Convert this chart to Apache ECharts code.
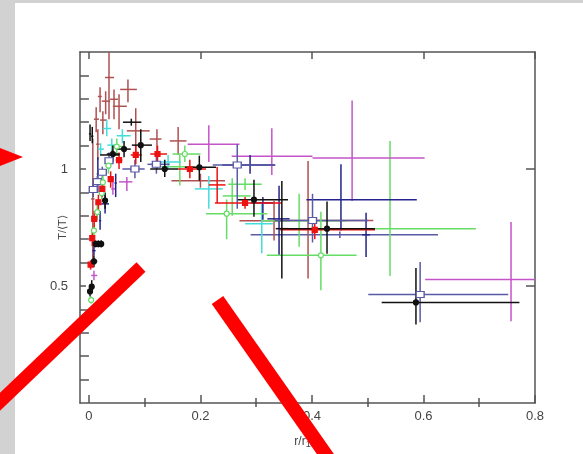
<!DOCTYPE html>
<html>
<head>
<meta charset="utf-8">
<script src="https://cdn.jsdelivr.net/npm/echarts@6/dist/echarts.min.js"></script>
<style>
html,body{margin:0;padding:0;background:#fff;}
#c{width:583px;height:454px;}
</style>
</head>
<body>
<div id="c"></div>
<script>
// Each point: [x, y, xLow, xHigh, yLow, yHigh]
const xTickLabels = [0, 0.2, 0.4, 0.6, 0.8];
const xMinorTicks = [0.1, 0.3, 0.5, 0.7];
const yTickLabels = [0.5, 1];
const yMinorTicks = [0.1, 0.2, 0.3, 0.4, 0.6, 0.7, 0.8, 0.9, 1.1, 1.2, 1.3, 1.4];
const yAllTicks = [0.1, 0.2, 0.3, 0.4, 0.5, 0.6, 0.7, 0.8, 0.9, 1, 1.1, 1.2, 1.3, 1.4];

const brownBars = [
  [0.036, 1.391, 0.029, 0.045, 1.213, 1.50],
  [0.070, 1.340, 0.056, 0.086, 1.285, 1.383],
  [0.020, 1.310, 0.016, 0.023, 1.243, 1.349],
  [0.030, 1.290, 0.023, 0.038, 1.234, 1.332],
  [0.045, 1.298, 0.038, 0.052, 1.213, 1.340],
  [0.054, 1.268, 0.043, 0.068, 1.170, 1.319],
  [0.013, 1.213, 0.009, 0.018, 1.157, 1.264],
  [0.025, 1.209, 0.020, 0.032, 1.149, 1.247],
  [0.007, 0.872, 0.004, 0.010, 0.600, 1.130],
  [0.016, 1.106, 0.013, 0.019, 1.040, 1.170],
  [0.084, 1.163, 0.068, 0.109, 1.060, 1.260],
  [0.122, 1.128, 0.109, 0.130, 1.000, 1.170],
  [0.160, 1.120, 0.145, 0.175, 1.060, 1.180],
  [0.200, 0.950, 0.148, 0.244, 0.920, 0.980],
  [0.393, 0.780, 0.330, 0.510, 0.532, 1.034],
  [0.332, 0.779, 0.270, 0.360, 0.694, 0.864]
];
const blackPts = [
  [0.427, 0.745, 0.357, 0.513, 0.638, 0.861],
  [0.5865, 0.430, 0.525, 0.772, 0.336, 0.577],
  [0.296, 0.869, 0.267, 0.357, 0.796, 0.954],
  [0.198, 1.007, 0.172, 0.228, 0.950, 1.057],
  [0.136, 1.000, 0.110, 0.160, 0.966, 1.040],
  [0.093, 1.102, 0.077, 0.113, 1.030, 1.170],
  [0.063, 1.085, 0.050, 0.075, 1.050, 1.120],
  [0.043, 1.064, 0.032, 0.055, 1.030, 1.100],
  [0.029, 0.865, 0.024, 0.034, 0.830, 0.900],
  [0.012, 0.680, 0.010, 0.015, 0.665, 0.695],
  [0.017, 0.680, 0.015, 0.020, 0.665, 0.695],
  [0.022, 0.680, 0.020, 0.026, 0.665, 0.695],
  [0.009, 0.605, 0.004, 0.015, 0.580, 0.630],
  [0.005, 0.497, 0.003, 0.007, 0.470, 0.525],
  [0.002, 0.477, 0.001, 0.004, 0.455, 0.500]
];
const blackBars = [
  [0.002, 1.150, 0.000, 0.004, 1.120, 1.190],
  [0.006, 1.140, 0.004, 0.008, 1.110, 1.180],
  [0.076, 1.200, 0.061, 0.094, 1.185, 1.215],
  [0.346, 0.745, 0.335, 0.357, 0.532, 0.949],
  [0.042, 1.060, 0.020, 0.055, 1.040, 1.080]
];
const redPts = [
  [0.405, 0.740, 0.343, 0.513, 0.700, 0.780],
  [0.280, 0.855, 0.226, 0.345, 0.830, 0.880],
  [0.181, 1.000, 0.160, 0.210, 0.960, 1.040],
  [0.123, 1.064, 0.110, 0.140, 1.030, 1.100],
  [0.084, 1.060, 0.075, 0.095, 1.020, 1.100],
  [0.054, 1.038, 0.048, 0.060, 1.000, 1.070],
  [0.039, 0.957, 0.035, 0.045, 0.920, 0.990],
  [0.024, 0.915, 0.020, 0.028, 0.880, 0.950],
  [0.017, 0.858, 0.014, 0.020, 0.820, 0.890],
  [0.0095, 0.787, 0.007, 0.012, 0.750, 0.820],
  [0.006, 0.705, 0.004, 0.008, 0.670, 0.740],
  [0.003, 0.591, 0.002, 0.005, 0.570, 0.610]
];
const redBars = [
  [0.230, 0.932, 0.215, 0.245, 0.855, 1.009]
];
const greenPts = [
  [0.416, 0.631, 0.319, 0.480, 0.482, 0.817],
  [0.247, 0.809, 0.210, 0.320, 0.700, 0.870],
  [0.172, 1.064, 0.150, 0.200, 1.030, 1.100],
  [0.050, 1.096, 0.040, 0.065, 1.060, 1.130],
  [0.035, 1.014, 0.030, 0.040, 0.980, 1.050],
  [0.025, 0.943, 0.020, 0.030, 0.910, 0.980],
  [0.023, 0.896, 0.019, 0.027, 0.870, 0.925],
  [0.015, 0.816, 0.012, 0.018, 0.780, 0.850],
  [0.009, 0.737, 0.007, 0.011, 0.710, 0.765],
  [0.004, 0.440, 0.002, 0.006, 0.425, 0.455]
];
const greenBars = [
  [0.540, 0.745, 0.430, 0.694, 0.543, 1.120],
  [0.163, 1.010, 0.130, 0.190, 0.930, 1.060],
  [0.257, 0.885, 0.240, 0.290, 0.800, 0.960],
  [0.377, 0.779, 0.310, 0.463, 0.668, 0.894],
  [0.280, 0.935, 0.250, 0.310, 0.910, 0.960]
];
const cyanBars = [
  [0.032, 1.173, 0.025, 0.040, 1.140, 1.210],
  [0.060, 1.142, 0.050, 0.075, 1.110, 1.170],
  [0.021, 1.085, 0.016, 0.027, 1.060, 1.110],
  [0.041, 1.102, 0.033, 0.050, 1.070, 1.130],
  [0.142, 1.030, 0.120, 0.165, 1.000, 1.060],
  [0.215, 0.915, 0.190, 0.240, 0.830, 0.970],
  [0.310, 0.766, 0.280, 0.330, 0.640, 0.850]
];
const magentaBars = [
  [0.472, 1.047, 0.401, 0.602, 0.863, 1.293],
  [0.328, 1.055, 0.256, 0.401, 0.974, 1.174],
  [0.757, 0.528, 0.603, 0.802, 0.349, 0.774],
  [0.215, 1.106, 0.177, 0.270, 1.030, 1.187],
  [0.068, 0.945, 0.054, 0.078, 0.906, 0.966],
  [0.009, 0.545, 0.004, 0.015, 0.525, 0.565],
  [0.043, 0.915, 0.040, 0.047, 0.890, 0.950]
];
const navyBars = [
  [0.452, 0.869, 0.390, 0.588, 0.737, 1.020],
  [0.312, 0.855, 0.290, 0.330, 0.783, 0.880],
  [0.341, 0.787, 0.320, 0.360, 0.630, 0.928],
  [0.289, 1.017, 0.239, 0.334, 0.980, 1.060],
  [0.497, 0.719, 0.490, 0.504, 0.624, 0.813],
  [0.029, 0.851, 0.022, 0.036, 0.810, 0.890],
  [0.048, 0.940, 0.046, 0.050, 0.880, 0.980],
  [0.020, 0.779, 0.018, 0.022, 0.740, 0.820],
  [0.009, 0.651, 0.006, 0.012, 0.630, 0.670],
  [0.016, 0.979, 0.014, 0.018, 0.900, 1.050]
];
const slatePts = [
  [0.266, 1.017, 0.222, 0.334, 0.830, 1.106],
  [0.0825, 1.000, 0.060, 0.100, 0.960, 1.040],
  [0.121, 1.020, 0.105, 0.145, 0.980, 1.060],
  [0.024, 0.986, 0.020, 0.028, 0.960, 1.010],
  [0.015, 0.946, 0.012, 0.018, 0.920, 0.970],
  [0.0078, 0.912, 0.005, 0.011, 0.880, 0.940],
  [0.036, 1.035, 0.032, 0.040, 1.000, 1.070],
  [0.594, 0.464, 0.501, 0.752, 0.345, 0.603],
  [0.401, 0.780, 0.333, 0.500, 0.686, 0.894]
];
const slateBars = [
  [0.450, 0.719, 0.290, 0.626, 0.705, 0.733]
];

const C = {
  brown: '#b05050', black: '#111111', red: '#ee1111', green: '#66dd66',
  cyan: '#44dddd', magenta: '#c455c8', navy: '#24248c', slate: '#5a5aa6'
};

function errSeries(data, color) {
  return {
    type: 'custom', xAxisIndex: 0, yAxisIndex: 0, data: data,
    encode: { x: [0, 2, 3], y: [1, 4, 5] },
    silent: true, z: 2,
    renderItem: function (params, api) {
      const x = api.value(0), y = api.value(1);
      const a = api.coord([api.value(2), y]), b = api.coord([api.value(3), y]);
      const c = api.coord([x, api.value(4)]), d = api.coord([x, api.value(5)]);
      const cs = params.coordSys;
      return {
        type: 'group',
        clipPath: { type: 'rect', shape: { x: cs.x, y: cs.y, width: cs.width, height: cs.height } },
        children: [
          { type: 'line', shape: { x1: a[0], y1: a[1], x2: b[0], y2: b[1] }, style: { stroke: color, lineWidth: 1.5 } },
          { type: 'line', shape: { x1: c[0], y1: c[1], x2: d[0], y2: d[1] }, style: { stroke: color, lineWidth: 1.5 } }
        ]
      };
    }
  };
}
function markSeries(data, symbol, size, fill, stroke) {
  return {
    type: 'scatter', xAxisIndex: 0, yAxisIndex: 0, silent: true, z: 3,
    data: data.map(p => [p[0], p[1]]),
    symbol: symbol, symbolSize: size,
    itemStyle: { color: fill, borderColor: stroke, borderWidth: 1.2, opacity: 1 }
  };
}

const axisCol = '#555';
const font = 'Liberation Sans, Arial, sans-serif';
const common = { min: -0.016, max: 0.8, type: 'value', splitLine: { show: false } };
const ycommon = { min: 0, max: 1.5, type: 'value', splitLine: { show: false } };

const chart = echarts.init(document.getElementById('c'), null, { renderer: 'canvas' });
chart.setOption({
  animation: false,
  backgroundColor: 'transparent',
  grid: { left: 80, top: 52, right: 48, bottom: 49 },
  xAxis: [
    Object.assign({}, common, {
      position: 'bottom',
      axisLine: { show: true, onZero: false, lineStyle: { color: axisCol, width: 1.5 } },
      axisTick: { show: true, inside: true, length: 8, customValues: xTickLabels, lineStyle: { color: axisCol, width: 1.5 } },
      axisLabel: { customValues: xTickLabels, color: '#444', fontSize: 13, fontFamily: font, margin: 7,
        formatter: v => String(v) },
      name: 'r/r{s|180}', nameLocation: 'middle', nameGap: 31, nameMoveOverlap: false,
      nameTextStyle: { color: '#444', fontSize: 12, fontFamily: font,
        rich: { s: { fontSize: 9, color: '#444', fontFamily: font, verticalAlign: 'bottom', padding: [6, 0, 0, 0] } } }
    }),
    Object.assign({}, common, {
      position: 'top',
      axisLine: { show: true, onZero: false, lineStyle: { color: axisCol, width: 1.5 } },
      axisTick: { show: true, inside: true, length: 7, customValues: xTickLabels, lineStyle: { color: axisCol, width: 1.5 } },
      axisLabel: { show: false }
    }),
    Object.assign({}, common, {
      position: 'bottom',
      axisLine: { show: false },
      axisTick: { show: true, inside: true, length: 5, customValues: xMinorTicks, lineStyle: { color: axisCol, width: 1.5 } },
      axisLabel: { show: false }
    }),
    Object.assign({}, common, {
      position: 'top',
      axisLine: { show: false },
      axisTick: { show: true, inside: true, length: 4, customValues: xMinorTicks, lineStyle: { color: axisCol, width: 1.5 } },
      axisLabel: { show: false }
    })
  ],
  yAxis: [
    Object.assign({}, ycommon, {
      position: 'left',
      axisLine: { show: true, onZero: false, lineStyle: { color: axisCol, width: 1.5 } },
      axisTick: { show: true, inside: true, length: 6, customValues: yAllTicks, lineStyle: { color: axisCol, width: 1.5 } },
      axisLabel: { customValues: yTickLabels, color: '#444', fontSize: 13, fontFamily: font, margin: 12,
        formatter: v => String(v) },
      name: 'T/\u27E8T\u27E9', nameLocation: 'middle', nameGap: 12, nameRotate: 90, nameMoveOverlap: false,
      nameTextStyle: { color: '#444', fontSize: 11, fontFamily: font }
    }),
    Object.assign({}, ycommon, {
      position: 'right',
      axisLine: { show: true, onZero: false, lineStyle: { color: axisCol, width: 1.5 } },
      axisTick: { show: true, inside: true, length: 9, customValues: yTickLabels, lineStyle: { color: axisCol, width: 1.5 } },
      axisLabel: { show: false }
    }),
    Object.assign({}, ycommon, {
      position: 'right',
      axisLine: { show: false },
      axisTick: { show: true, inside: true, length: 5, customValues: yMinorTicks, lineStyle: { color: axisCol, width: 1.5 } },
      axisLabel: { show: false }
    })
  ],
  series: [
    errSeries(slateBars, C.slate),
    errSeries(brownBars, C.brown),
    errSeries(greenBars, C.green),
    errSeries(cyanBars, C.cyan),
    errSeries(magentaBars, C.magenta),
    errSeries(navyBars, C.navy),
    errSeries(slatePts, C.slate),
    errSeries(greenPts, C.green),
    errSeries(redBars, C.red),
    errSeries(redPts, C.red),
    errSeries(blackBars, C.black),
    errSeries(blackPts, C.black),
    markSeries(slatePts, 'rect', [8, 6], '#ffffff', C.slate),
    markSeries(greenPts, 'circle', 5, '#ffffff', C.green),
    markSeries(redPts, 'rect', 5, C.red, C.red),
    markSeries(blackPts, 'circle', 5, C.black, C.black)
  ],
  graphic: [
    { type: 'rect', z: -10, silent: true, shape: { x: 0, y: 0, width: 15, height: 454 }, style: { fill: '#d2d2d2' } },
    { type: 'rect', z: -10, silent: true, shape: { x: 0, y: 0, width: 583, height: 3 }, style: { fill: '#d2d2d2' } },
    { type: 'polygon', z: 100, silent: true, shape: { points: [[0, 148], [23, 157], [0, 166]] }, style: { fill: '#ff0000' } },
    { type: 'line', z: 100, silent: true, shape: { x1: 141, y1: 267, x2: -20, y2: 421 }, style: { stroke: '#ff0000', lineWidth: 13 } },
    { type: 'line', z: 100, silent: true, shape: { x1: 217.5, y1: 300, x2: 352, y2: 492 }, style: { stroke: '#ff0000', lineWidth: 14 } }
  ]
});
</script>
</body>
</html>
